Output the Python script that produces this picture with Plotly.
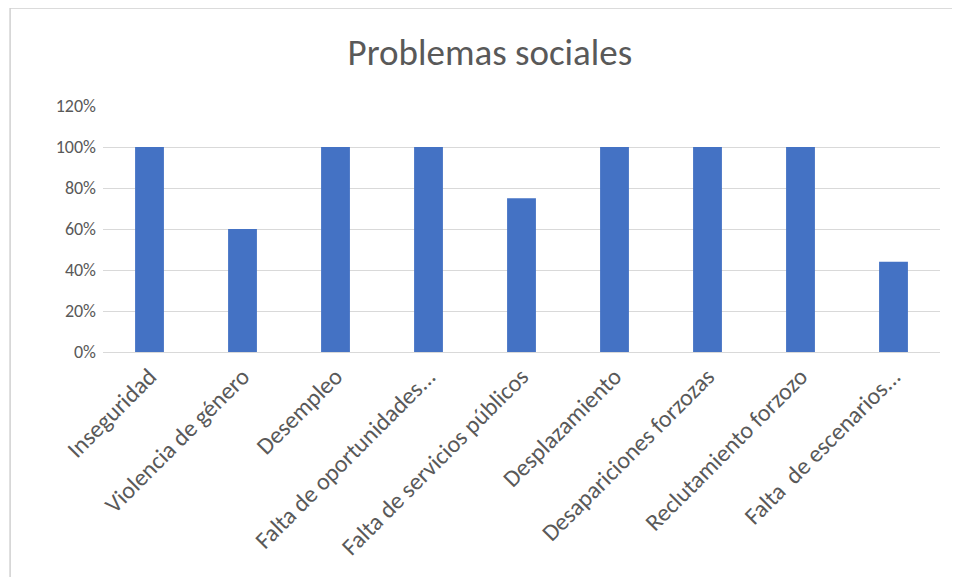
import plotly.graph_objects as go

categories = ["Inseguridad", "Violencia de género", "Desempleo", "Falta de oportunidades...",
              "Falta de servicios públicos", "Desplazamiento", "Desapariciones forzozas",
              "Reclutamiento forzozo", "Falta  de escenarios..."]
values = [1.00, 0.60, 1.00, 1.00, 0.75, 1.00, 1.00, 1.00, 0.44]
tick_vals = [0, 0.2, 0.4, 0.6, 0.8, 1.0, 1.2]
tick_text = ["0%", "20%", "40%", "60%", "80%", "100%", "120%"]

FONT = "Carlito, Calibri, Lato, sans-serif"
GRAY = "#595959"

fig = go.Figure(go.Bar(x=categories, y=values, marker_color="#4472C4",
                       marker_line_width=0, width=0.31))

fig.update_layout(
    width=960, height=577,
    paper_bgcolor="white", plot_bgcolor="white",
    margin=dict(l=95, r=28, t=98, b=233, autoexpand=False),
    title=dict(text="Problemas sociales", x=0.502, xanchor="center", y=0.924, yanchor="middle",
               font=dict(family=FONT, size=37, color=GRAY)),
    font=dict(family=FONT, color=GRAY, size=18),
    showlegend=False,
)
fig.update_xaxes(tickangle=-45, tickfont=dict(size=24, color=GRAY), showline=True,
                 linecolor="#d9d9d9", linewidth=1, ticks="", showgrid=False,
                 automargin=False)
fig.update_yaxes(range=[0, 1.2], tickvals=tick_vals, ticktext=tick_text, showgrid=True,
                 gridcolor="#d9d9d9", gridwidth=1, zeroline=False, ticks="",
                 tickfont=dict(size=18, color=GRAY), ticklabelstandoff=6, automargin=False)
fig.add_shape(type="rect", xref="paper", yref="paper", x0=-0.111, x1=1.2, y0=-1.5, y1=1.398,
              line=dict(color="#d0d0d0", width=1.5), fillcolor="rgba(0,0,0,0)", layer="below")

fig.write_html("out.html")
